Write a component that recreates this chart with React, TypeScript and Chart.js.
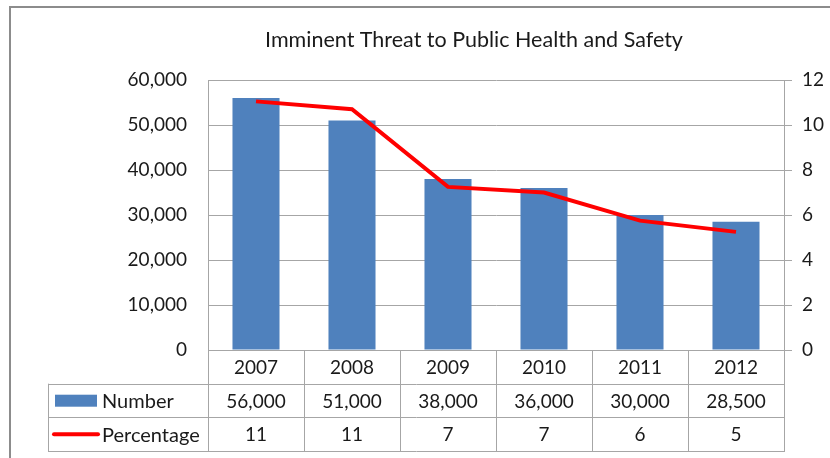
import { useEffect, useRef } from 'react';
import Chart from 'chart.js/auto';

const years = ['2007', '2008', '2009', '2010', '2011', '2012'];
const numberValues = [56000, 51000, 38000, 36000, 30000, 28500];
const percentageValues = [11.05, 10.7, 7.25, 7.0, 5.75, 5.25];
const numberTable = ['56,000', '51,000', '38,000', '36,000', '30,000', '28,500'];
const percentageTable = ['11', '11', '7', '7', '6', '5'];
const title = 'Imminent Threat to Public Health and Safety';
const seriesNames = ['Number', 'Percentage'];

const FONT = 'Lato, "Open Sans", sans-serif';
const TEXT = '#1a1a1a';
const GRID = '#a6a6a6';
const BLUE = '#4f81bd';
const RED = '#ff0000';

export default function App() {
  const ref = useRef<HTMLCanvasElement | null>(null);

  useEffect(() => {
    const canvas = ref.current;
    if (!canvas) return;

    const tablePlugin = {
      id: 'tablePlugin',
      afterDraw(chart: any) {
        const ctx = chart.ctx as CanvasRenderingContext2D;
        const x = chart.scales.x;
        const area = chart.chartArea;
        const n = years.length;
        const colW = (area.right - area.left) / n;
        const top = area.bottom;
        const rowH = 33.7;
        const tableLeft = 48;
        const y1 = top + rowH;
        const y2 = top + rowH * 2;
        const y3 = top + rowH * 3;
        ctx.save();
        // outer border
        ctx.strokeStyle = '#8c8c8c';
        ctx.lineWidth = 2;
        ctx.strokeRect(10, 7, 900, 600);

        // title
        ctx.fillStyle = TEXT;
        ctx.font = `21.5px ${FONT}`;
        ctx.textAlign = 'center';
        ctx.textBaseline = 'middle';
        ctx.fillText(title, 474, 40);

        // table lines
        ctx.strokeStyle = GRID;
        ctx.lineWidth = 1;
        ctx.beginPath();
        for (let i = 0; i <= n; i++) {
          const cx = Math.round(area.left + i * colW) + 0.5;
          ctx.moveTo(cx, top);
          ctx.lineTo(cx, y3);
        }
        ctx.moveTo(tableLeft + 0.5, y1);
        ctx.lineTo(tableLeft + 0.5, y3);
        [y1, y2, y3].forEach((yy) => {
          const ry = Math.round(yy) + 0.5;
          ctx.moveTo(tableLeft, ry);
          ctx.lineTo(area.right + 1, ry);
        });
        ctx.stroke();

        // cell text
        ctx.fillStyle = TEXT;
        ctx.font = `19px ${FONT}`;
        ctx.textAlign = 'center';
        ctx.textBaseline = 'middle';
        for (let i = 0; i < n; i++) {
          const cx = x.getPixelForValue(i);
          ctx.fillText(years[i], cx, top + rowH / 2 + 1);
          ctx.fillText(numberTable[i], cx, y1 + rowH / 2 + 1);
          ctx.fillText(percentageTable[i], cx, y2 + rowH / 2 + 1);
        }

        // legend keys
        ctx.fillStyle = BLUE;
        ctx.fillRect(55, y1 + 11, 42, 12);
        ctx.strokeStyle = RED;
        ctx.lineWidth = 4;
        ctx.lineCap = 'round';
        ctx.beginPath();
        ctx.moveTo(54, y2 + rowH / 2);
        ctx.lineTo(98, y2 + rowH / 2);
        ctx.stroke();
        ctx.fillStyle = TEXT;
        ctx.textAlign = 'left';
        ctx.font = `20px ${FONT}`;
        ctx.fillText(seriesNames[0], 102, y1 + rowH / 2 + 1);
        ctx.fillText(seriesNames[1], 102, y2 + rowH / 2 + 1);
        ctx.restore();
      },
    };

    const chart = new Chart(canvas, {
      type: 'bar',
      data: {
        labels: years,
        datasets: [
          {
            type: 'line',
            label: seriesNames[1],
            data: percentageValues,
            yAxisID: 'y1',
            borderColor: RED,
            backgroundColor: RED,
            borderWidth: 4,
            pointRadius: 0,
            tension: 0,
            order: 0,
          },
          {
            type: 'bar',
            label: seriesNames[0],
            data: numberValues,
            yAxisID: 'y',
            backgroundColor: BLUE,
            borderColor: '#6a94c8',
            borderWidth: 0,
            barPercentage: 0.49,
            categoryPercentage: 1,
            order: 1,
          },
        ],
      },
      plugins: [tablePlugin],
      options: {
        responsive: false,
        animation: false,
        layout: { padding: { top: 80, bottom: 108, left: 0, right: 0 } },
        plugins: {
          legend: { display: false },
          title: { display: false },
          tooltip: { enabled: false },
        },
        scales: {
          x: {
            display: false,
            offset: true,
          },
          y: {
            position: 'left',
            min: 0,
            max: 60000,
            ticks: {
              stepSize: 10000,
              padding: 21,
              color: TEXT,
              font: { family: FONT, size: 19 },
              callback: (v: any) => Number(v).toLocaleString('en-US'),
            },
            grid: { color: GRID, drawTicks: false },
            border: { display: true, color: GRID },
            afterFit: (s: any) => {
              s.width = 208;
            },
          },
          y1: {
            position: 'right',
            min: 0,
            max: 12,
            ticks: {
              stepSize: 2,
              padding: 10,
              color: TEXT,
              font: { family: FONT, size: 19 },
            },
            grid: { drawOnChartArea: false, color: GRID, tickLength: 8 },
            border: { display: true, color: GRID },
            afterFit: (s: any) => {
              s.width = 46;
            },
          },
        },
      },
    });
    return () => chart.destroy();
  }, []);

  return (
    <div style={{ position: 'fixed', left: 0, top: 0, width: 830, height: 458, background: '#fff' }}>
      <canvas ref={ref} width={830} height={458} style={{ display: 'block' }} />
    </div>
  );
}
